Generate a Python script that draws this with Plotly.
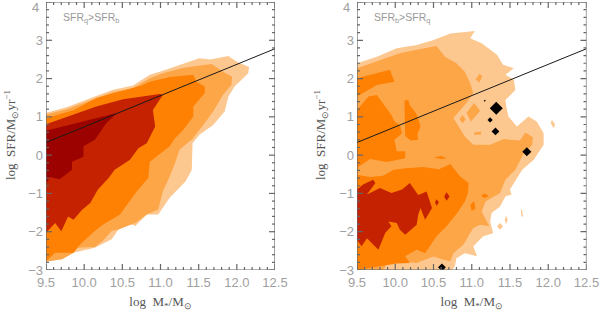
import plotly.graph_objects as go

# Left panel contour levels (SFR_q > SFR_b)
left_l1_x = [9.5,9.77,10.07,10.38,10.64,10.86,10.99,11.3,11.51,11.65,11.89,12.0,12.16,12.15,11.97,11.89,11.84,11.69,11.51,11.42,11.41,11.41,11.33,11.16,11.12,10.97,10.82,10.67,10.58,10.45,10.36,10.14,9.86,9.71,9.53,9.5]
left_l1_y = [1.11,1.25,1.48,1.71,1.82,2.1,2.18,2.4,2.53,2.5,2.59,2.44,2.3,2.14,1.79,1.53,1.14,0.79,0.53,0.31,-0.12,-0.38,-0.68,-1.05,-1.11,-1.55,-1.55,-1.85,-1.77,-1.94,-2.2,-2.42,-2.55,-2.72,-2.77,-2.78]
left_l2_x = [9.5,9.77,10.07,10.38,10.64,10.86,11.03,11.3,11.67,11.82,11.94,11.93,11.82,11.69,11.56,11.41,11.38,11.25,11.19,11.12,11.03,10.97,10.82,10.67,10.45,10.36,10.25,10.14,9.9,9.86,9.71,9.53,9.5]
left_l2_y = [1.06,1.2,1.42,1.65,1.75,2.01,2.14,2.28,2.38,2.18,2.05,1.84,1.58,1.14,0.79,0.4,0.36,0.14,-0.21,-0.56,-0.95,-1.42,-1.55,-1.77,-1.94,-1.98,-2.23,-2.4,-2.42,-2.55,-2.72,-2.77,-2.78]
left_l3_x = [9.5,9.86,10.16,10.51,10.75,10.86,11.12,11.43,11.47,11.58,11.58,11.43,11.43,11.3,11.19,11.12,10.86,10.84,10.69,10.47,10.25,10.14,9.95,9.86,9.62,9.5]
left_l3_y = [0.97,1.17,1.49,1.68,1.82,1.92,2.04,2.1,1.92,1.79,1.62,1.27,1.01,0.66,0.44,0.23,-0.17,-0.6,-0.94,-1.55,-1.81,-1.98,-2.33,-2.55,-2.55,-2.77]
left_l4_x = [9.5,9.86,10.16,10.51,10.99,11.03,10.9,10.93,10.82,10.71,10.6,10.4,10.32,10.18,10.08,9.97,9.86,9.79,9.7,9.62,9.5]
left_l4_y = [0.81,1.05,1.27,1.46,1.6,1.57,1.18,0.75,0.31,0.18,-0.12,-0.38,-0.6,-0.9,-1.25,-1.43,-1.69,-1.6,-1.99,-1.77,-2.03]
left_l5_x = [9.5,10.43,10.29,10.14,9.99,9.99,9.84,9.84,9.68,9.55,9.5]
left_l5_y = [0.64,1.1,0.83,0.4,0.23,-0.04,-0.17,-0.38,-0.63,-0.57,-0.77]

# Right panel contour levels (SFR_b > SFR_q)
right_l1_x = [9.5,9.76,10.02,10.28,10.5,10.72,11.04,10.98,11.13,11.33,11.41,11.55,11.44,11.55,11.57,11.44,11.46,11.48,11.59,11.74,11.85,11.94,11.94,11.81,11.66,11.59,11.5,11.52,11.44,11.37,11.26,11.24,11.28,11.15,11.02,11.07,10.91,10.8,10.78,10.74,9.5,None,
              11.33,11.37,11.41,11.37,None,11.43,11.45,11.47,11.45,None,11.64,11.66,11.67,11.65,None,12.05,12.09,12.07,12.03]
right_l1_y = [2.4,2.57,2.79,2.88,3.01,3.18,3.24,3.05,2.92,2.62,2.36,2.27,2.1,1.97,1.7,1.44,1.18,1.01,0.75,1.01,0.88,0.57,0.27,-0.12,-0.38,-0.6,-0.9,-1.03,-1.08,-1.34,-1.51,-1.73,-2.04,-2.12,-2.38,-2.64,-2.56,-2.69,-2.9,-3.0,-3.0,None,
              -1.86,-1.77,-1.86,-1.95,None,-1.69,-1.58,-1.69,-1.8,None,-1.38,-1.47,-1.6,-1.6,None,0.92,0.8,0.7,0.85]
right_l2_x = [9.5,9.8,10.06,10.28,10.54,10.65,10.8,10.91,10.98,11.02,10.93,10.76,10.91,11.02,11.24,11.42,11.63,11.7,11.8,11.79,11.68,11.59,11.57,11.44,11.37,11.18,11.13,11.23,11.11,11.02,10.89,10.76,10.72,10.63,10.5,10.28,10.06,9.89,9.84,9.5,None,
              11.03,11.11,10.99,10.93,None,11.03,11.12,11.12,11.03,None,10.88,10.92,10.88,10.84,None,11.05,11.1,11.14,11.1]
right_l2_y = [2.27,2.49,2.66,2.75,2.85,2.57,2.4,2.18,1.88,1.62,1.36,0.97,0.49,0.27,0.27,0.42,0.38,0.59,0.47,0.27,0.05,-0.3,-0.38,-0.64,-0.99,-1.21,-1.47,-1.86,-1.82,-1.9,-2.34,-2.56,-2.77,-2.73,-2.65,-2.82,-2.78,-2.85,-3.0,-3.0,None,
              1.36,1.16,0.88,1.1,None,0.59,0.62,0.53,0.53,None,1.05,0.94,0.83,0.94,None,1.98,2.12,2.06,1.9]
right_l3_x = [9.5,9.93,9.99,9.76,9.58,9.5,None,
              9.5,9.65,9.76,9.87,9.95,9.99,10.06,10.09,9.99,10.02,10.13,10.13,9.89,9.67,9.52,9.5,None,
              10.12,10.17,10.19,10.27,10.3,10.33,10.29,10.3,10.2,10.13,None,
              9.5,9.67,9.84,9.98,10.13,10.37,10.57,10.72,10.85,10.96,10.95,10.91,10.81,10.67,10.54,10.39,10.28,10.13,10.19,10.02,9.5,None,
              10.5,10.6,10.68,10.6,None,11.12,11.18,11.22,11.16,None,10.98,11.03,11.05,11.0]
right_l3_y = [2.01,2.23,1.92,1.83,1.62,1.53,None,
              1.18,1.53,1.57,1.27,1.05,0.88,0.79,0.57,0.4,0.1,0.1,-0.08,-0.18,-0.1,-0.3,-0.5,None,
              1.42,1.45,1.3,1.1,0.95,0.75,0.55,0.4,0.38,0.5,None,
              -0.51,-0.57,-0.54,-0.38,-0.34,-0.31,-0.37,-0.23,-0.56,-0.73,-0.99,-1.21,-1.51,-1.86,-2.12,-2.56,-2.47,-2.64,-2.82,-2.83,-3.0,None,
              -0.06,-0.02,-0.08,-0.1,None,-1.05,-1.0,-1.08,-1.12,None,-1.3,-1.2,-1.4,-1.45]
right_l4_x = [9.5,9.58,9.71,9.74,9.63,9.8,9.95,10.09,10.19,10.3,10.41,10.48,10.39,10.33,10.3,10.28,10.13,10.06,10.02,9.91,9.95,9.87,9.78,9.63,9.56,9.5,None,
              10.64,10.67,10.71,10.67,None,10.52,10.54,10.57,10.54]
right_l4_y = [-0.9,-0.77,-0.64,-0.73,-1.03,-0.86,-0.99,-0.9,-0.73,-1.04,-0.95,-1.38,-1.69,-1.38,-1.56,-1.82,-2.08,-1.95,-1.77,-1.73,-1.86,-2.03,-2.47,-2.17,-2.38,-2.21,None,
              -1.08,-0.97,-1.08,-1.19,None,-1.23,-1.15,-1.23,-1.33]
spot_x = [11.32,11.24,11.31,11.72,10.61,11.17]
spot_y = [1.225,0.92,0.62,0.09,-2.93,1.42]

fit_x = [9.5,12.5]
fit_y = [0.33,2.78]

x_first_tick, x_tick_step, x_minor_step = 9.5, 0.5, 0.1
y_first_tick, y_tick_step, y_minor_step = -3, 1, 0.2
x_min, x_max, y_min, y_max = 9.5, 12.5, -3, 4

C1,C2,C3,C4,C5 = "#FDC890","#FDA648","#FE8103","#C42200","#9C0200"
GRAY = "#666666"
TICKFONT = dict(family="Liberation Sans", size=13, color="#a0a0a0")
TITLEFONT = dict(family="Liberation Serif", size=13, color="#555555")
fig = go.Figure()

def poly(xs, ys, c, xa, ya):
    fig.add_trace(go.Scatter(x=xs, y=ys, mode="lines", fill="toself", fillcolor=c,
                             line=dict(width=0, color=c), hoverinfo="skip",
                             xaxis=xa, yaxis=ya, showlegend=False))

for xs, ys, c in [(left_l1_x,left_l1_y,C1),(left_l2_x,left_l2_y,C2),(left_l3_x,left_l3_y,C3),
                  (left_l4_x,left_l4_y,C4),(left_l5_x,left_l5_y,C5)]:
    poly(xs, ys, c, "x", "y")
for xs, ys, c in [(right_l1_x,right_l1_y,C1),(right_l2_x,right_l2_y,C2),(right_l3_x,right_l3_y,C3),
                  (right_l4_x,right_l4_y,C4)]:
    poly(xs, ys, c, "x2", "y2")

fig.add_trace(go.Scatter(x=spot_x, y=spot_y, mode="markers", xaxis="x2", yaxis="y2", showlegend=False,
                         marker=dict(symbol="diamond", color="#000000", opacity=1, size=[10,4,6,7,6,1.5], line=dict(width=0))))
for xa, ya in [("x","y"),("x2","y2")]:
    fig.add_trace(go.Scatter(x=fit_x, y=fit_y, mode="lines", xaxis=xa, yaxis=ya, showlegend=False,
                             line=dict(color="#1a1a1a", width=1)))

# Frame and tick marks, as one line trace per panel
def frame_and_ticks():
    fx = [x_min, x_max, x_max, x_min, x_min, None]
    fy = [y_min, y_min, y_max, y_max, y_min, None]
    ux = 1 / 76.4   # one pixel in x units
    uy = 1 / 38.3   # one pixel in y units
    n = int(round((x_max - x_min) / x_minor_step))
    for i in range(n + 1):
        v = x_min + i * x_minor_step
        ln = 6 if i % 5 == 0 else 3
        fx += [v, v, None, v, v, None]
        fy += [y_min, y_min + ln * uy, None, y_max, y_max - ln * uy, None]
    n = int(round((y_max - y_min) / y_minor_step))
    for i in range(n + 1):
        v = y_min + i * y_minor_step
        ln = 6 if i % 5 == 0 else 3
        fx += [x_min, x_min + ln * ux, None, x_max, x_max - ln * ux, None]
        fy += [v, v, None, v, v, None]
    return fx, fy

fx, fy = frame_and_ticks()
for xa, ya in [("x","y"),("x2","y2")]:
    fig.add_trace(go.Scatter(x=fx, y=fy, mode="lines", xaxis=xa, yaxis=ya, showlegend=False, cliponaxis=False,
                             hoverinfo="skip", line=dict(color=GRAY, width=1.2)))

def xaxis(dom):
    return dict(domain=dom, range=[x_min,x_max], tickmode="linear", tick0=x_first_tick, dtick=x_tick_step, tickformat=".1f",
                ticks="", automargin=False, ticklabelstandoff=3, showline=False, showgrid=False, zeroline=False,
                tickfont=TICKFONT, title=dict(text="log  M<sub>*</sub>/M<sub>\u2299</sub>", font=TITLEFONT))
def yaxis(dom, anchor):
    return dict(domain=dom, range=[y_min,y_max], anchor=anchor, tickmode="linear", tick0=y_first_tick, dtick=y_tick_step,
                ticks="", automargin=False, ticklabelstandoff=2, showline=False, showgrid=False, zeroline=False,
                tickfont=TICKFONT)

def top_label(xa, ya):
    return dict(text="4", xref=xa+" domain", yref=ya+" domain", x=0, y=1, xanchor="right", yanchor="middle",
                xshift=-5, yshift=-5, showarrow=False, font=TICKFONT)
def y_title(px):
    return dict(text="log  SFR/M<sub>\u2299</sub>yr<sup>\u22121</sup>", xref="paper", yref="paper", x=px/600, y=1-135/311,
                xanchor="center", yanchor="middle", textangle=-90, showarrow=False, font=TITLEFONT)

ydom = [1-270/311, 1-2/311]
fig.update_layout(
    template="none",
    width=600, height=311, margin=dict(l=0,r=0,t=0,b=0,pad=0), paper_bgcolor="white", plot_bgcolor="white",
    showlegend=False,
    xaxis=dict(xaxis([46/600,275/600]), anchor="y"),
    yaxis=yaxis(ydom,"x"),
    xaxis2=dict(xaxis([357/600,586.5/600]), anchor="y2"),
    yaxis2=yaxis(ydom,"x2"),
    annotations=[
        dict(text="SFR<sub>q</sub>>SFR<sub>b</sub>", x=9.7, y=3.58, xref="x", yref="y", xanchor="left", yanchor="middle",
             showarrow=False, font=dict(family="Liberation Sans", size=10.5, color="#999999")),
        dict(text="SFR<sub>b</sub>>SFR<sub>q</sub>", x=9.7, y=3.58, xref="x2", yref="y2", xanchor="left", yanchor="middle",
             showarrow=False, font=dict(family="Liberation Sans", size=10.5, color="#999999")),
        top_label("x","y"), top_label("x2","y2"), y_title(11), y_title(321),
    ],
)
fig.write_html("out.html", config=dict(displayModeBar=False),
               post_script="document.body.style.margin='0';document.documentElement.style.overflow='hidden';")
